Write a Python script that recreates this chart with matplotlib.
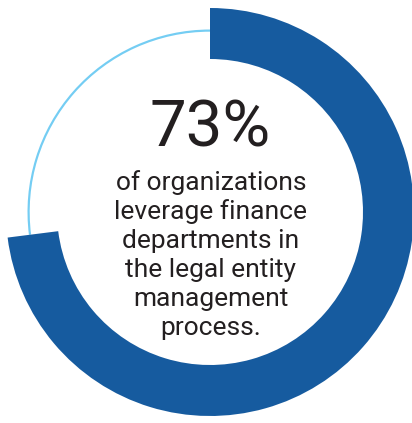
import matplotlib
matplotlib.use("Agg")
import matplotlib.pyplot as plt

# Data
share_pct = 73
rest_pct = 100 - share_pct
headline = "73%"
body_lines = ["of organizations", "leverage finance", "departments in",
              "the legal entity", "management", "process."]

W, H = 412, 423
fig = plt.figure(figsize=(W / 100, H / 100), dpi=100)
ax = fig.add_axes([0, 0, 1, 1])

cx, cy = 210, H - 212
dark = "#165B9F"
light = "#74CDF3"

# thin light ring for the remaining share
ax.pie([share_pct, rest_pct], center=(cx, cy), radius=182.5,
       startangle=90, counterclock=False,
       colors=["none", light],
       wedgeprops=dict(width=2.2, linewidth=0, edgecolor="none"),
       frame=True)
# thick dark arc for the main share
ax.pie([share_pct, rest_pct], center=(cx, cy), radius=204,
       startangle=90, counterclock=False,
       colors=[dark, "none"],
       wedgeprops=dict(width=51, linewidth=0, edgecolor="none"),
       frame=True)
ax.set_xlim(0, W)
ax.set_ylim(0, H)
ax.set_aspect("equal")
ax.axis("off")

ax.text(cx, H - 146, headline, ha="center", va="baseline",
        fontsize=47, color="#231F20", family="Roboto", fontweight="normal")

for i, line in enumerate(body_lines):
    ax.text(cx + 1, H - (190 + i * 29), line, ha="center", va="baseline",
            fontsize=19, color="#231F20", family="Roboto", fontweight="normal")

fig.savefig("out.png", dpi=100)
